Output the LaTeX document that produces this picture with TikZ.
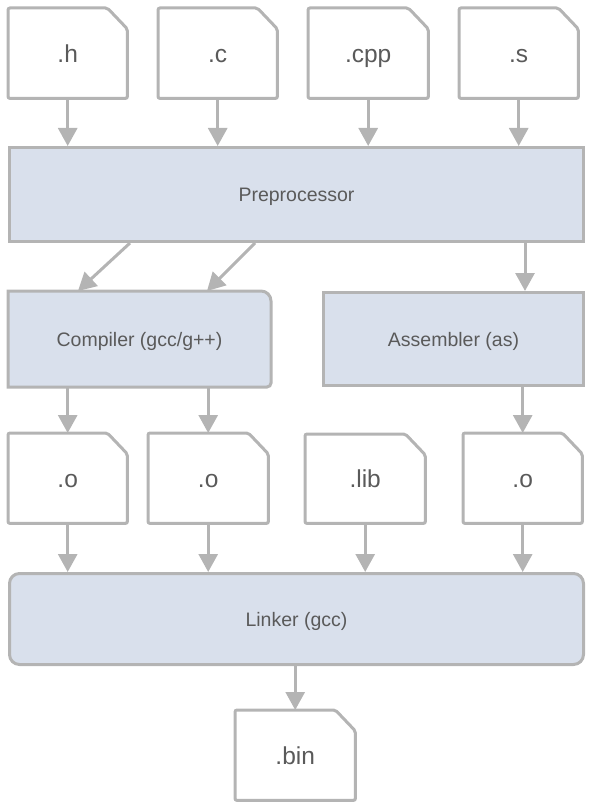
\documentclass[tikz,border=0pt]{standalone}
\usepackage{fontspec}
\setmainfont{Liberation Sans}
\usetikzlibrary{arrows.meta,backgrounds}
\definecolor{linegray}{HTML}{B4B4B4}
\definecolor{boxfill}{HTML}{D9E0EC}
\definecolor{textgray}{HTML}{5A5A5A}
\tikzset{
  stage/.style={draw=linegray,fill=boxfill,line width=3pt,text=textgray,
    font=\fontsize{19.5}{22}\selectfont,inner sep=0pt,anchor=north west,
    text height=14pt,text depth=0pt},
  file/.style={text=textgray,font=\fontsize{24.5}{28}\selectfont,inner sep=0pt,
    anchor=north west,minimum width=119pt,minimum height=90pt,
    text height=18pt,text depth=0pt},
  fileline/.style={draw=linegray,fill=white,line width=3pt,rounded corners=2pt},
  flow/.style={draw=linegray,line width=3pt,-{Triangle[width=19pt,length=18pt]}}
}
\begin{document}
\begin{tikzpicture}[x=1pt,y=-1pt]
\useasboundingbox (0,0) rectangle (589,810);
\node[file] (h) at (8,8) {.h};
\node[file] (c) at (158,8) {.c};
\node[file,minimum width=120pt] (cpp) at (308,8) {.cpp};
\node[file] (s) at (459,8) {.s};
\node[stage,minimum width=574pt,minimum height=94pt] (pre) at (8,146) {Preprocessor};
\node[stage,draw=none,fill=none,minimum width=260pt,minimum height=93pt] (comp) at (8,291) {Compiler (gcc/g++)};
\node[stage,minimum width=260pt,minimum height=93pt] (asm) at (322,291) {Assembler (as)};
\node[file] (o1) at (8,433) {.o};
\node[file,minimum width=120pt] (o2) at (148,433) {.o};
\node[file,minimum width=120pt,minimum height=89pt] (lib) at (305,434) {.lib};
\node[file] (o3) at (463,433) {.o};
\node[stage,rounded corners=10pt,minimum width=574pt,minimum height=91pt] (link) at (8,572) {Linker (gcc)};
\node[file,minimum width=120pt] (bin) at (235,710) {.bin};
\begin{scope}[on background layer]
\foreach \f in {h,c,cpp,s,o1,o2,lib,o3,bin}
  \draw[fileline] (\f.north west) -- ([xshift=-20pt]\f.north east)
    -- ([yshift=-21pt]\f.north east) -- (\f.south east) -- (\f.south west) -- cycle;
\draw[draw=linegray,fill=boxfill,line width=3pt] (comp.north west)
  [rounded corners=10pt] -- (comp.north east) [rounded corners=4pt] -- (comp.south east)
  [sharp corners] -- (comp.south west) -- cycle;
\end{scope}
\draw[flow] (h.south) -- (h.south |- pre.north);
\draw[flow] (c.south) -- (c.south |- pre.north);
\draw[flow] (cpp.south) -- (cpp.south |- pre.north);
\draw[flow] (s.south) -- (s.south |- pre.north);
\draw[flow] ([xshift=122pt]pre.south west) -- ([xshift=70pt]comp.north west);
\draw[flow] ([xshift=247pt]pre.south west) -- ([xshift=199pt]comp.north west);
\coordinate (asmin) at ([xshift=-60pt]asm.north east);
\draw[flow] (asmin |- pre.south) -- (asmin);
\draw[flow] (o1.north |- comp.south) -- (o1.north);
\draw[flow] (o2.north |- comp.south) -- (o2.north);
\draw[flow] (o3.north |- asm.south) -- (o3.north);
\draw[flow] (o1.south) -- (o1.south |- link.north);
\draw[flow] (o2.south) -- (o2.south |- link.north);
\draw[flow] (lib.south) -- (lib.south |- link.north);
\draw[flow] (o3.south) -- (o3.south |- link.north);
\draw[flow] (bin.north |- link.south) -- (bin.north);
\end{tikzpicture}
\end{document}
